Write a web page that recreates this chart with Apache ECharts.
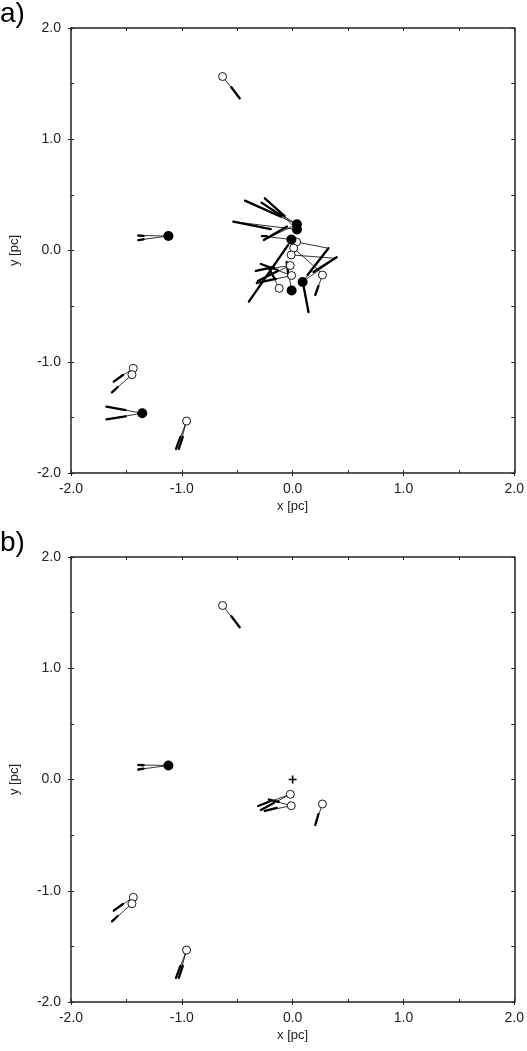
<!DOCTYPE html>
<html>
<head>
<meta charset="utf-8">
<script src="https://cdn.jsdelivr.net/npm/echarts@6/dist/echarts.min.js"></script>
<style>
html,body{margin:0;padding:0;background:#fff;}
#main{width:527px;height:1051px;}
</style>
</head>
<body>
<div id="main"></div>
<script>
// tick labels
var tickVals = [-2, -1, 0, 1, 2];
var tickLabels = ['-2.0', '-1.0', '0.0', '1.0', '2.0'];

// panel a: stars [x, y, filled]
var starsA = [
	[-0.632, 1.564, 0], [-1.121, 0.130, 1], [-1.438, -1.059, 0], [-1.450, -1.116, 0],
	[-1.357, -1.463, 1], [-0.957, -1.533, 0],
	[0.039, 0.236, 1], [0.039, 0.189, 1], [-0.011, 0.099, 1], [0.036, 0.076, 0],
	[0.009, 0.022, 0], [-0.013, -0.040, 0], [-0.022, -0.135, 0], [-0.009, -0.225, 0],
	[-0.121, -0.340, 0], [-0.009, -0.360, 1], [0.090, -0.283, 1], [0.269, -0.220, 0]
];
// panel a: vectors [star, xmid, ymid, xend, yend]
var vecsA = [
	[0, -0.553, 1.467, -0.478, 1.368],
	[1, -1.345, 0.132, -1.393, 0.135], [1, -1.345, 0.101, -1.393, 0.094],
	[2, -1.531, -1.119, -1.614, -1.179],
	[3, -1.578, -1.227, -1.630, -1.275],
	[4, -1.507, -1.434, -1.680, -1.404], [4, -1.507, -1.492, -1.680, -1.517],
	[5, -1.013, -1.676, -1.052, -1.784], [5, -0.991, -1.676, -1.027, -1.784],
	[6, -0.110, 0.305, -0.430, 0.448], [6, -0.099, 0.310, -0.281, 0.430], [6, -0.050, 0.215, -0.260, 0.094],
	[7, -0.072, 0.310, -0.251, 0.469], [7, -0.197, 0.193, -0.535, 0.259],
	[8, -0.040, 0.050, -0.395, -0.460], [8, -0.233, 0.130, -0.278, 0.130],
	[9, 0.323, 0.020, 0.323, 0.020],
	[10, 0.263, -0.205, 0.263, -0.205],
	[11, 0.386, -0.070, 0.386, -0.070],
	[12, -0.170, -0.148, -0.332, -0.184], [12, -0.135, -0.184, -0.314, -0.274],
	[13, -0.135, -0.175, -0.287, -0.121], [13, -0.152, -0.256, -0.323, -0.292],
	[14, -0.161, -0.256, -0.215, -0.157],
	[15, -0.036, -0.238, -0.054, -0.103],
	[16, 0.135, -0.220, 0.323, 0.020], [16, 0.188, -0.193, 0.397, -0.061], [16, 0.097, -0.310, 0.143, -0.553],
	[17, 0.233, -0.319, 0.204, -0.400]
];

// panel b
var starsB = [
	[-0.632, 1.564, 0], [-1.121, 0.126, 1], [-1.438, -1.059, 0], [-1.450, -1.116, 0],
	[-0.957, -1.533, 0],
	[-0.021, -0.133, 0], [-0.012, -0.236, 0], [0.269, -0.220, 0]
];
var vecsB = [
	[0, -0.553, 1.467, -0.478, 1.368],
	[1, -1.345, 0.128, -1.393, 0.131], [1, -1.345, 0.097, -1.393, 0.090],
	[2, -1.531, -1.119, -1.614, -1.179],
	[3, -1.578, -1.227, -1.630, -1.275],
	[4, -1.013, -1.676, -1.052, -1.784], [4, -0.991, -1.676, -1.027, -1.784],
	[5, -0.197, -0.193, -0.311, -0.238], [5, -0.170, -0.211, -0.287, -0.274],
	[6, -0.143, -0.256, -0.251, -0.283], [6, -0.126, -0.202, -0.215, -0.180],
	[7, 0.233, -0.310, 0.204, -0.409]
];
var crossB = [[0, 0]];

var FONT = 'Liberation Sans, Arial, sans-serif';
var INK = '#222';

function fmt(v){
	var i = tickVals.indexOf(v);
	return i >= 0 ? tickLabels[i] : '';
}

function vecData(stars, vecs){
	var out = [];
	for(var i = 0; i < vecs.length; i++){
		var s = stars[vecs[i][0]];
		out.push([s[0], s[1], vecs[i][1], vecs[i][2], vecs[i][3], vecs[i][4]]);
	}
	return out;
}
function pick(stars, filled){
	var out = [];
	for(var i = 0; i < stars.length; i++){
		if(stars[i][2] == filled) out.push([stars[i][0], stars[i][1]]);
	}
	return out;
}

function renderVec(params, api){
	var p0 = api.coord([api.value(0), api.value(1)]);
	var pm = api.coord([api.value(2), api.value(3)]);
	var pe = api.coord([api.value(4), api.value(5)]);
	return {type:'group', children:[
		{type:'line', shape:{x1:p0[0], y1:p0[1], x2:pe[0], y2:pe[1]}, style:{stroke:'#000', lineWidth:0.8}},
		{type:'line', shape:{x1:pm[0], y1:pm[1], x2:pe[0], y2:pe[1]}, style:{stroke:'#000', lineWidth:2.3, lineCap:'round'}}
	]};
}

var lineSt = {color:INK, width:1.5};
function xAxes(gi){
	return [
		{gridIndex:gi, type:'value', min:-2, max:2, interval:1, position:'bottom',
			axisLine:{show:true, onZero:false, lineStyle:lineSt},
			axisTick:{show:true, inside:false, length:3, lineStyle:{color:INK}},
			axisLabel:{margin:9, fontSize:14, color:INK, fontFamily:FONT, formatter:fmt},
			splitLine:{show:false},
			name:'x [pc]', nameLocation:'middle', nameGap:27,
			nameTextStyle:{fontSize:13, color:INK, fontFamily:FONT}},
		{gridIndex:gi, type:'value', min:-2, max:2, interval:0.5, position:'bottom',
			axisLine:{show:false, onZero:false}, axisTick:{inside:true, length:3, lineStyle:{color:INK}},
			axisLabel:{show:false}, splitLine:{show:false}},
		{gridIndex:gi, type:'value', min:-2, max:2, interval:0.5, position:'top',
			axisLine:{show:true, onZero:false, lineStyle:lineSt}, axisTick:{inside:true, length:3, lineStyle:{color:INK}},
			axisLabel:{show:false}, splitLine:{show:false}}
	];
}
function yAxes(gi){
	return [
		{gridIndex:gi, type:'value', min:-2, max:2, interval:1, position:'left',
			axisLine:{show:true, onZero:false, lineStyle:lineSt},
			axisTick:{show:true, inside:false, length:3, lineStyle:{color:INK}},
			axisLabel:{margin:10, fontSize:14, color:INK, fontFamily:FONT, formatter:fmt},
			splitLine:{show:false},
			name:'y [pc]', nameLocation:'middle', nameGap:50, nameRotate:90,
			nameTextStyle:{fontSize:13, color:INK, fontFamily:FONT}},
		{gridIndex:gi, type:'value', min:-2, max:2, interval:0.5, position:'left',
			axisLine:{show:false, onZero:false}, axisTick:{inside:true, length:3, lineStyle:{color:INK}},
			axisLabel:{show:false}, splitLine:{show:false}},
		{gridIndex:gi, type:'value', min:-2, max:2, interval:0.5, position:'right',
			axisLine:{show:true, onZero:false, lineStyle:lineSt}, axisTick:{inside:true, length:3, lineStyle:{color:INK}},
			axisLabel:{show:false}, splitLine:{show:false}}
	];
}

function panelSeries(stars, vecs, ax){
	return [
		{type:'custom', xAxisIndex:ax, yAxisIndex:ax, renderItem:renderVec,
			encode:{x:[0,2,4], y:[1,3,5]}, data:vecData(stars, vecs), clip:false, z:2},
		{type:'scatter', xAxisIndex:ax, yAxisIndex:ax, symbol:'circle', symbolSize:8,
			itemStyle:{color:'#fff', borderColor:'#000', borderWidth:0.9, opacity:1}, data:pick(stars, 0), z:3},
		{type:'scatter', xAxisIndex:ax, yAxisIndex:ax, symbol:'circle', symbolSize:10,
			itemStyle:{color:'#000', opacity:1}, data:pick(stars, 1), z:4}
	];
}

var chart = echarts.init(document.getElementById('main'));
var option = {
	animation:false,
	backgroundColor:'#fff',
	grid:[
		{left:71, top:28, width:446, height:445},
		{left:71, top:557, width:446, height:445}
	],
	xAxis: xAxes(0).concat(xAxes(1)),
	yAxis: yAxes(0).concat(yAxes(1)),
	graphic:[
		{type:'text', left:0, top:0, style:{text:'a)', font:'28px ' + FONT, fill:'#000'}},
		{type:'text', left:0, top:529, style:{text:'b)', font:'28px ' + FONT, fill:'#000'}}
	],
	series: panelSeries(starsA, vecsA, 0).concat(panelSeries(starsB, vecsB, 3)).concat([
		{type:'scatter', xAxisIndex:3, yAxisIndex:3, symbol:'path://M4,0h2v4h4v2h-4v4h-2v-4h-4v-2h4z',
			symbolSize:8, itemStyle:{color:'#000', opacity:1}, data:crossB, z:4}
	])
};
chart.setOption(option);
</script>
</body>
</html>
